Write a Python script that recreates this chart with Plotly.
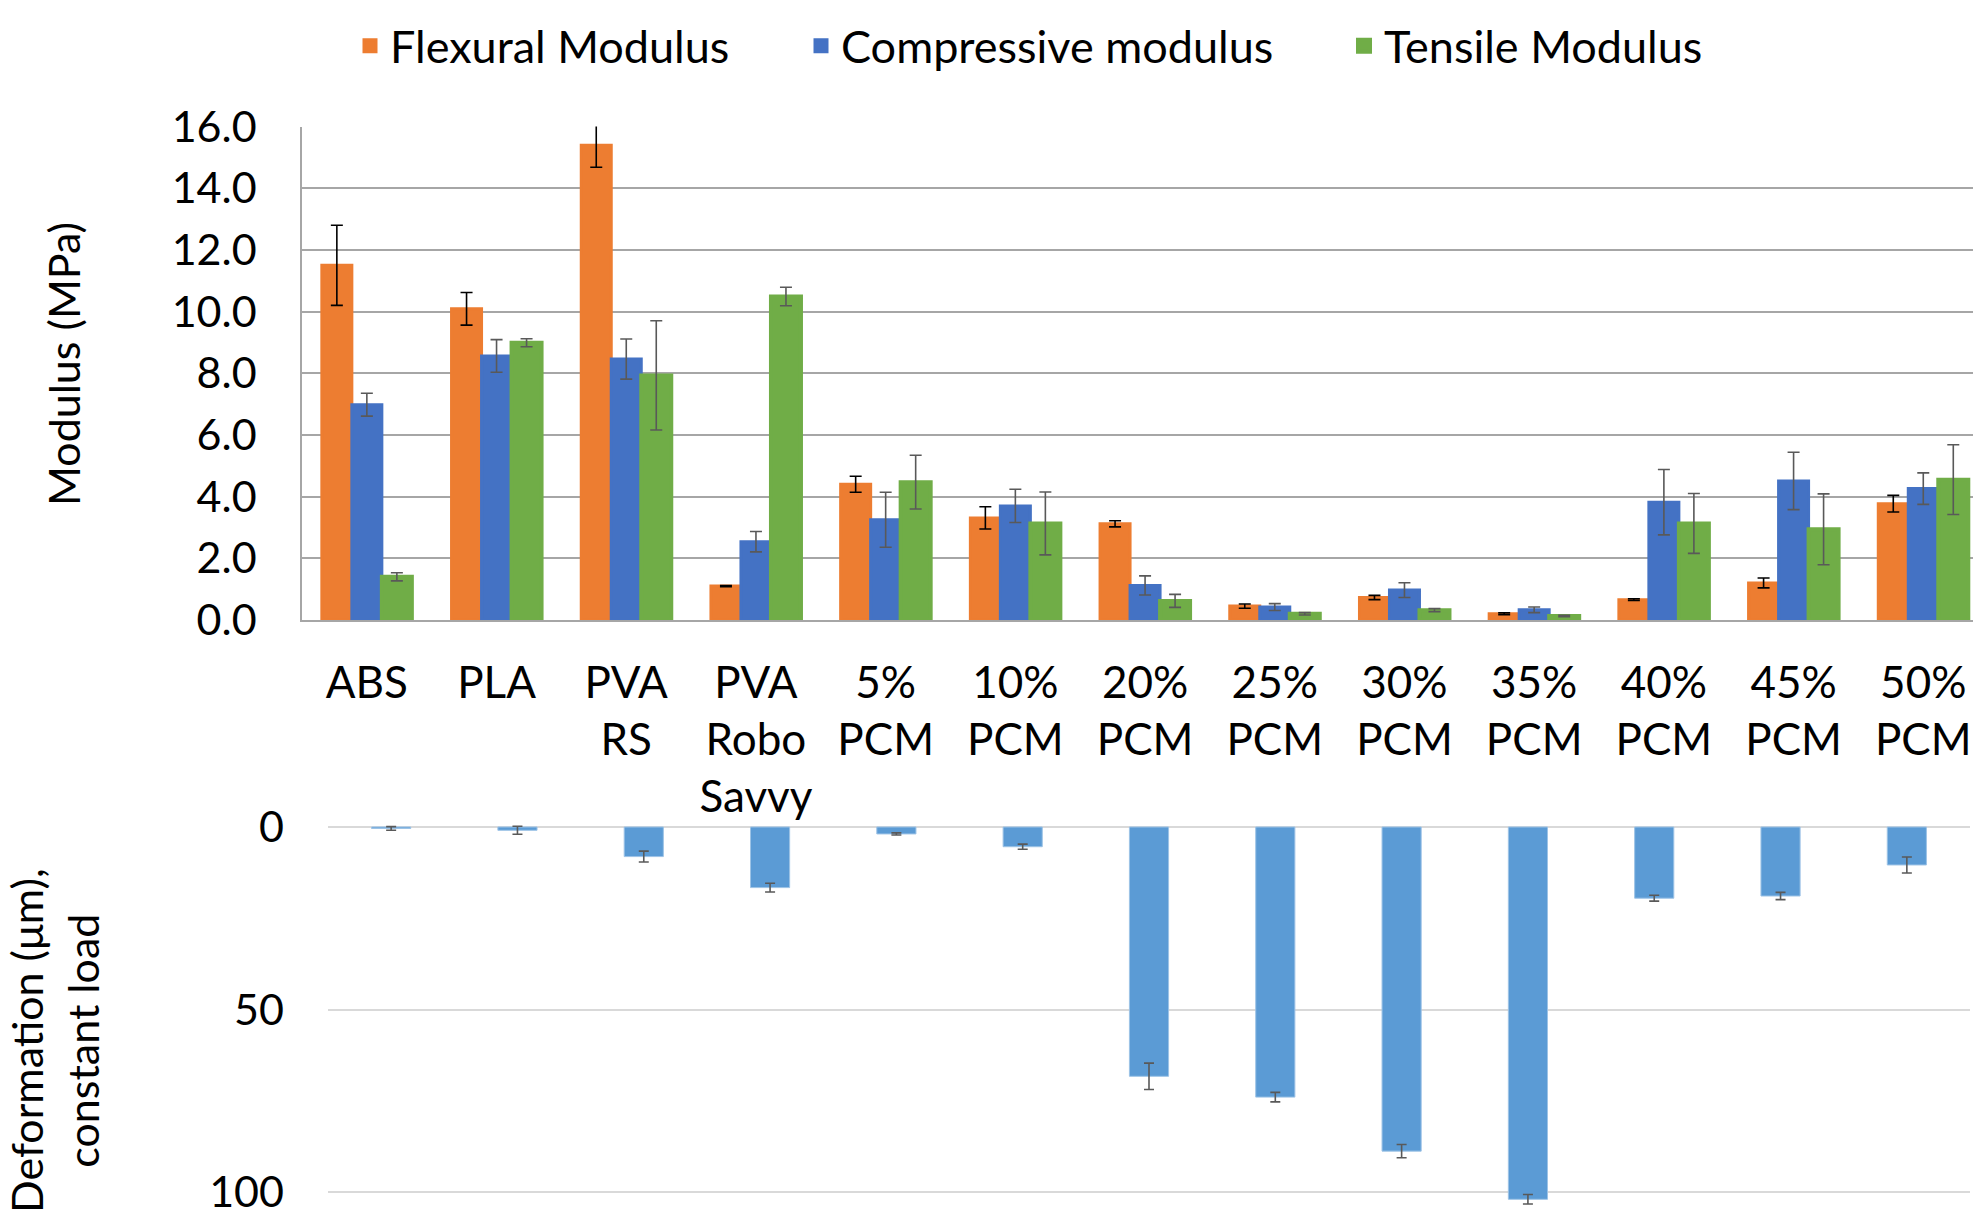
import plotly.graph_objects as go

# ---------------- data ----------------
categories = ["ABS", "PLA", "PVA<br>RS", "PVA<br>Robo<br>Savvy", "5%<br>PCM", "10%<br>PCM",
              "20%<br>PCM", "25%<br>PCM", "30%<br>PCM", "35%<br>PCM", "40%<br>PCM",
              "45%<br>PCM", "50%<br>PCM"]

flexural = [11.50, 10.09, 15.39, 1.10, 4.40, 3.31, 3.12, 0.45, 0.73, 0.20, 0.66, 1.20, 3.77]
flexural_err = [1.30, 0.53, 0.71, 0.02, 0.26, 0.36, 0.10, 0.07, 0.07, 0.03, 0.03, 0.16, 0.27]

compressive = [6.98, 8.56, 8.46, 2.54, 3.25, 3.70, 1.12, 0.42, 0.97, 0.33, 3.82, 4.51, 4.26]
compressive_err = [0.37, 0.53, 0.65, 0.33, 0.89, 0.54, 0.31, 0.11, 0.24, 0.09, 1.06, 0.93, 0.51]

tensile = [1.40, 8.99, 7.93, 10.49, 4.47, 3.13, 0.62, 0.20, 0.32, 0.13, 3.13, 2.94, 4.55]
tensile_err = [0.13, 0.13, 1.77, 0.30, 0.87, 1.02, 0.21, 0.04, 0.05, 0.02, 0.97, 1.15, 1.13]

deformation = [0.4, 0.9, 8.1, 16.6, 1.9, 5.4, 68.3, 74.0, 88.8, 102.0, 19.5, 18.9, 10.4]
deformation_err = [0.5, 1.1, 1.5, 1.2, 0.3, 0.7, 3.6, 1.3, 1.8, 1.3, 0.8, 1.0, 2.2]

top_ticks = [0, 2, 4, 6, 8, 10, 12, 14, 16]
bottom_ticks = [0, 50, 100]

# ---------------- style ----------------
PAGE_OFFSET = 8            # default body margin of the html page
W, H = 1981 - PAGE_OFFSET, 1213 - PAGE_OFFSET
FONT = "Lato, 'Open Sans', sans-serif"
FS = 43
C_FLEX, C_COMP, C_TENS, C_DEF = "#ED7D31", "#4472C4", "#70AD47", "#5B9BD5"


def px_x(p):
    return (p - PAGE_OFFSET) / W


def px_y(p):
    return 1 - (p - PAGE_OFFSET) / H


fig = go.Figure()

fig.add_trace(go.Bar(
    x=categories, y=flexural, name="Flexural Modulus", legend="legend",
    marker=dict(color=C_FLEX, line=dict(color=C_FLEX, width=3)),
    error_y=dict(type="data", array=flexural_err, color="#000000", thickness=1.6, width=6),
    xaxis="x", yaxis="y"))
fig.add_trace(go.Bar(
    x=categories, y=compressive, name="Compressive modulus", legend="legend2",
    marker=dict(color=C_COMP, line=dict(color=C_COMP, width=3)),
    error_y=dict(type="data", array=compressive_err, color="#595959", thickness=1.6, width=6),
    xaxis="x", yaxis="y"))
fig.add_trace(go.Bar(
    x=categories, y=tensile, name="Tensile Modulus", legend="legend3",
    marker=dict(color=C_TENS, line=dict(color=C_TENS, width=4)),
    error_y=dict(type="data", array=tensile_err, color="#595959", thickness=1.6, width=6),
    xaxis="x", yaxis="y"))

fig.add_trace(go.Bar(
    x=categories, y=deformation, name="Deformation", showlegend=False, width=0.31,
    marker=dict(color=C_DEF, line=dict(color="#9DC3E6", width=1)),
    error_y=dict(type="data", array=deformation_err, color="#595959", thickness=1.6, width=5),
    xaxis="x2", yaxis="y2"))

tick_font = dict(family=FONT, size=FS, color="#000000")
xtick_font = dict(family=FONT, size=44, color="#000000")
leg_font = dict(family=FONT, size=45, color="#000000")

fig.update_layout(
    width=W, height=H,
    margin=dict(l=0, r=0, t=0, b=0, autoexpand=False),
    paper_bgcolor="white", plot_bgcolor="white",
    barmode="group", bargap=0.306, bargroupgap=0,
    font=dict(family=FONT, size=FS, color="#000000"),
    xaxis=dict(domain=[px_x(302), 1.0], range=[-0.5, 12.445], type="category",
               anchor="y", showgrid=False, showline=True, linecolor="#A6A6A6", linewidth=1.5,
               ticks="", tickangle=0, tickfont=xtick_font, ticklabelstandoff=23,
               automargin=False),
    yaxis=dict(domain=[px_y(620), px_y(126.5)], range=[0, 16], tickvals=top_ticks,
               tickformat=".1f", anchor="x", showgrid=True, gridcolor="#A6A6A6", gridwidth=1.5,
               showline=True, linecolor="#A6A6A6", linewidth=1.5, zeroline=False,
               ticks="", tickfont=tick_font, ticklabelstandoff=35, automargin=False),
    xaxis2=dict(domain=[px_x(328), px_x(1970)], range=[-0.5, 12.5], type="category",
                anchor="y2", showgrid=False, showline=False, showticklabels=False, ticks="",
                automargin=False),
    yaxis2=dict(domain=[0.0, px_y(823)], range=[105.75, -1.1], tickvals=bottom_ticks,
                anchor="x2", showgrid=True, gridcolor="#D9D9D9", gridwidth=1.5,
                zeroline=False, showline=False, ticks="", tickfont=tick_font,
                ticklabelstandoff=43, ticklabeloverflow="allow", automargin=False),
    legend=dict(orientation="h", x=px_x(350), y=px_y(46), xanchor="left", yanchor="middle",
                font=leg_font, bgcolor="rgba(0,0,0,0)"),
    legend2=dict(orientation="h", x=px_x(801), y=px_y(46), xanchor="left", yanchor="middle",
                 font=leg_font, bgcolor="rgba(0,0,0,0)"),
    legend3=dict(orientation="h", x=px_x(1344), y=px_y(46), xanchor="left", yanchor="middle",
                 font=leg_font, bgcolor="rgba(0,0,0,0)"),
    annotations=[
        dict(text="Modulus (MPa)", textangle=-90, x=px_x(63), y=px_y(364),
             xref="paper", yref="paper", xanchor="center", yanchor="middle",
             showarrow=False, font=dict(family=FONT, size=FS, color="#000000")),
        dict(text="Deformation (μm),<br>constant load", textangle=-90, x=px_x(54),
             y=px_y(1041), xref="paper", yref="paper", xanchor="center", yanchor="middle",
             showarrow=False, font=dict(family=FONT, size=FS, color="#000000")),
    ],
)

fig.write_html("out.html")
